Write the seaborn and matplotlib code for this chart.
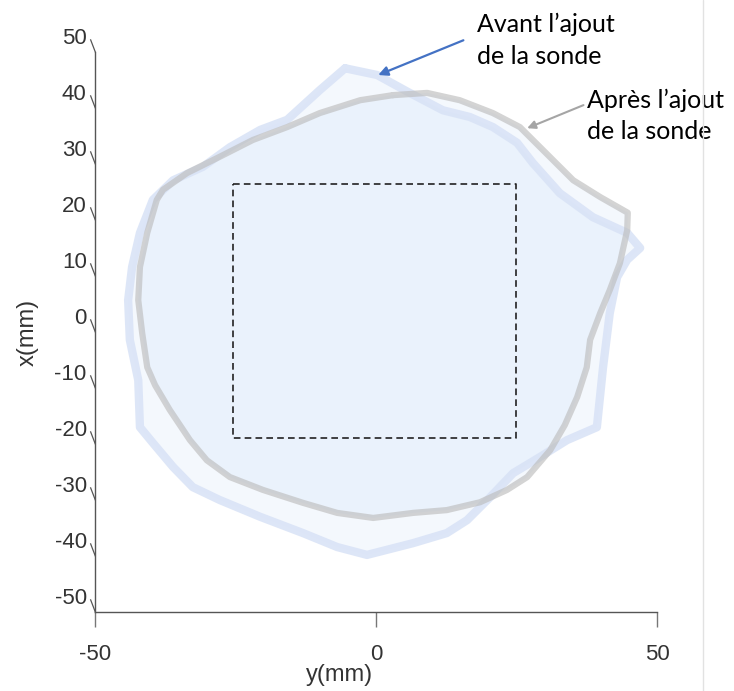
import numpy as np
import pandas as pd
import seaborn as sns
import matplotlib.pyplot as plt
from matplotlib.path import Path
from matplotlib.markers import MarkerStyle
from matplotlib.transforms import ScaledTranslation
from matplotlib.lines import Line2D

# contour before the probe was added (horizontal = y mm, vertical = x mm)
avant_y = [-5.5, 0.2, 6.0, 11.9, 16.7, 20.8, 25.1, 27.9, 32.7, 38.6, 44.7, 47.0,
           44.7, 42.9, 41.6, 40.4, 39.3, 34.0, 29.2, 24.4, 20.3, 16.2, 12.6, 6.6,
           -1.6, -6.9, -13.0, -20.6, -27.8, -32.6, -36.1, -39.7, -42.0, -42.3,
           -43.8, -44.1, -43.4, -42.0, -39.7, -36.1, -30.8, -26.0, -20.6, -15.8,
           -10.0, -5.5]
avant_x = [47.1, 45.9, 42.7, 39.6, 38.4, 36.6, 33.8, 30.2, 24.8, 20.5, 17.7, 15.0,
           12.9, 9.8, 3.4, -6.3, -17.0, -19.3, -22.3, -25.2, -29.5, -33.6, -35.9,
           -37.7, -39.8, -38.4, -35.9, -33.0, -30.0, -27.7, -24.1, -19.8, -17.0,
           -8.6, -1.4, 5.7, 11.6, 17.7, 23.6, 27.1, 29.5, 33.0, 36.1, 37.9, 43.2,
           47.1]

# contour after the probe was added
apres_y = [3.0, 9.1, 14.9, 20.8, 25.6, 29.2, 32.7, 35.1, 39.9, 44.8, 44.7, 43.4,
           41.6, 39.9, 38.1, 37.5, 35.8, 33.6, 31.0, 26.9, 23.3, 18.5, 12.6, 6.6,
           -0.5, -6.9, -13.0, -20.1, -26.0, -30.1, -33.1, -36.7, -39.3, -40.7,
           -41.6, -42.3, -42.0, -40.7, -39.0, -37.9, -33.6, -27.8, -21.9, -15.8,
           -10.0, -2.8, 3.0]
apres_x = [42.3, 42.7, 41.4, 39.1, 36.6, 33.0, 29.5, 27.1, 24.1, 21.3, 18.2, 12.3,
           7.5, 3.4, -1.4, -6.3, -11.6, -16.6, -21.1, -25.9, -28.2, -30.4, -31.8,
           -32.3, -33.2, -32.3, -30.5, -28.2, -25.9, -22.9, -19.3, -13.9, -9.5,
           -6.3, -0.2, 5.7, 11.6, 17.7, 23.6, 25.4, 28.4, 31.3, 34.3, 36.6, 39.1,
           41.4, 42.3]

# dashed square (probe area)
rect_y = [-25.5, 25.0, 25.0, -25.5, -25.5]
rect_x = [26.4, 26.4, -18.9, -18.9, 26.4]

ticks = [-50, -40, -30, -20, -10, 0, 10, 20, 30, 40, 50]
xticks = [-50, 0, 50]

sns.set_theme(style="white")
plt.rcParams["font.family"] = ["Liberation Sans", "DejaVu Sans"]

fig = plt.figure(figsize=(7.34, 6.91), dpi=100)
ax = fig.add_axes([0.1294, 0.1143, 0.7657, 0.8104])

fill_col = (150/255, 190/255, 245/255)
ax.fill(avant_y, avant_x, color=fill_col, alpha=0.1, lw=0)
ax.fill(apres_y, apres_x, color=fill_col, alpha=0.1, lw=0)

df_av = pd.DataFrame({"y": avant_y, "x": avant_x})
df_ap = pd.DataFrame({"y": apres_y, "x": apres_x})
sns.lineplot(data=df_av, x="y", y="x", sort=False, estimator=None, ax=ax,
             color="#D8E2F6", alpha=0.85, lw=6, solid_joinstyle="round")
sns.lineplot(data=df_ap, x="y", y="x", sort=False, estimator=None, ax=ax,
             color="#BDBDBD", alpha=0.65, lw=4.5, solid_joinstyle="round")
ax.plot(rect_y, rect_x, color="#222222", lw=1.2, ls=(0, (4, 2.5)))

ax.set_xlim(-50, 50)
ax.set_ylim(-50, 50)
ax.set_xticks(xticks)
ax.set_yticks(ticks)
ax.set_xticklabels([str(t) for t in xticks])
ax.set_yticklabels([str(t) for t in ticks])

for s in ["top", "right"]:
    ax.spines[s].set_visible(False)
for s in ["left", "bottom"]:
    ax.spines[s].set_color("#555555")
    ax.spines[s].set_linewidth(1.0)

ax.tick_params(axis="x", direction="out", length=11, width=1, color="#777777",
               pad=12, labelsize=16, labelcolor="#333333", bottom=True)
ax.tick_params(axis="y", labelsize=16, labelcolor="#333333", pad=0, left=True,
               color="#555555", width=0.9)

# slanted y ticks
slant = MarkerStyle(Path([(0, 0), (-5, 13)]))
for t in ax.yaxis.get_major_ticks():
    t.tick1line.set_marker(slant)
    t.tick1line.set_markersize(19)
shift = ScaledTranslation(0, 0.16, fig.dpi_scale_trans)
for lab in ax.get_yticklabels():
    lab.set_transform(lab.get_transform() + shift)

ax.set_xlabel("y(mm)", fontsize=17, color="#333333")
ax.set_ylabel("x(mm)", fontsize=17, color="#333333")
ax.xaxis.set_label_coords(0.436, -0.092)
ax.yaxis.set_label_coords(-0.10, 0.5)

note_font = ["Lato", "DejaVu Sans"]
ax.annotate("Avant l\u2019ajout\nde la sonde", xy=(0.4, 45.9), xytext=(18.0, 52.1),
            fontsize=18, family=note_font, color="black", ha="left", va="center",
            linespacing=1.45, annotation_clip=False,
            arrowprops=dict(arrowstyle="-|>", color="#4472C4", lw=1.6,
                            shrinkA=0, shrinkB=0, relpos=(-0.1, 0.5),
                            mutation_scale=14))
ax.annotate("Apr\u00e8s l\u2019ajout\nde la sonde", xy=(26.9, 36.4), xytext=(37.5, 38.6),
            fontsize=18, family=note_font, color="black", ha="left", va="center",
            linespacing=1.45, annotation_clip=False,
            arrowprops=dict(arrowstyle="-|>", color="#A5A5A5", lw=1.5,
                            shrinkA=0, shrinkB=0, relpos=(-0.02, 0.7),
                            mutation_scale=12))

fig.add_artist(Line2D([703/734, 703/734], [0, 1], color="#E2E2E2", lw=1))

fig.savefig("out.png", dpi=100, facecolor="white")
